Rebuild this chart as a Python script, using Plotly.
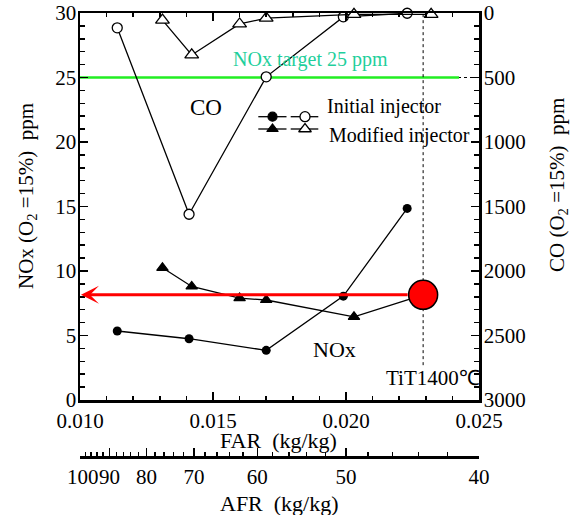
import plotly.graph_objects as go

# ---------------- data ----------------
FAR_INIT = [0.0114, 0.0141, 0.0170, 0.0199, 0.0223]
NOX_INIT = [5.35, 4.75, 3.85, 8.05, 14.85]
CO_INIT = [115, 1560, 495, 30, 2]

FAR_MOD = [0.0131, 0.0142, 0.0160, 0.0170, 0.0203]
NOX_MOD = [10.25, 8.8, 7.9, 7.75, 6.45]
FAR_MOD_CO = [0.0131, 0.0142, 0.0160, 0.0170, 0.0203, 0.0232]
CO_MOD = [55, 325, 85, 40, 10, 10]

TIT_FAR = 0.0229          # TiT 1400 C operating point
TIT_NOX = 8.15
TIT_LINE_BOTTOM = 2.7
NOX_TARGET = 25
TARGET_END_FAR = 0.02425

FAR_TICKS = [0.010, 0.015, 0.020, 0.025]
FAR_TICKTEXT = ["0.010", "0.015", "0.020", "0.025"]
AFR_MAJOR = [100, 90, 80, 70, 60, 50, 40]
AFR_TICKTEXT = ["\u00a0100", "90", "80", "70", "60", "50", "40"]
AFR_MINOR = list(range(98, 40, -2))
NOX_RANGE = [0, 30]
CO_RANGE = [3000, 0]

# ---------------- layout geometry (window pixels) ----------------
W, H = 571, 515
X0, X1 = 80, 479
Y_TOP, Y_BOT = 13, 400
Y_AFR = 457
FONT = "Liberation Serif, Times New Roman, serif"


def px(x):
    return x / W


def py(y):
    return (H - y) / H


BLACK = "black"
fig = go.Figure()

fig.add_trace(go.Scatter(x=FAR_INIT, y=NOX_INIT, mode="lines+markers",
                         line=dict(color=BLACK, width=1.3),
                         marker=dict(symbol="circle", size=9, color=BLACK, opacity=1),
                         xaxis="x", yaxis="y", hoverinfo="skip"))
fig.add_trace(go.Scatter(x=FAR_MOD + [TIT_FAR], y=NOX_MOD + [TIT_NOX], mode="lines+markers",
                         line=dict(color=BLACK, width=1.3),
                         marker=dict(symbol="triangle-up", size=[10] * len(FAR_MOD) + [0], color=BLACK,
                                     opacity=1, line=dict(width=1.2, color=BLACK)),
                         xaxis="x", yaxis="y", hoverinfo="skip"))
fig.add_trace(go.Scatter(x=FAR_INIT, y=CO_INIT, mode="lines+markers",
                         line=dict(color=BLACK, width=1.3),
                         marker=dict(symbol="circle", size=10, color="white", opacity=1,
                                     line=dict(color=BLACK, width=1.3)),
                         xaxis="x", yaxis="y2", hoverinfo="skip", cliponaxis=False))
fig.add_trace(go.Scatter(x=FAR_MOD_CO, y=CO_MOD, mode="lines+markers",
                         line=dict(color=BLACK, width=1.3),
                         marker=dict(symbol="triangle-up", size=12, color="white", opacity=1,
                                     line=dict(color=BLACK, width=1.3)),
                         xaxis="x", yaxis="y2", hoverinfo="skip", cliponaxis=False))

# dummy trace so the AFR axis is drawn
fig.add_trace(go.Scatter(x=[TIT_FAR], y=[TIT_NOX], mode="markers", opacity=0,
                         xaxis="x2", yaxis="y", hoverinfo="skip"))

fig.add_trace(go.Scatter(x=[TIT_FAR], y=[TIT_NOX], mode="markers",
                         marker=dict(size=29, color="#ff0000", opacity=1, line=dict(color=BLACK, width=1.5)),
                         xaxis="x", yaxis="y", hoverinfo="skip", cliponaxis=False))

# ---------------- legend glyphs (window-pixel axis) ----------------
LEG_ROWS = [(116.7, "circle", 9, 10), (129.0, "triangle-up", 10, 11)]
for yy, sym, sf, so in LEG_ROWS:
    fig.add_trace(go.Scatter(x=[258.3, 272.5, 286.5], y=[yy] * 3, mode="lines+markers",
                             line=dict(color=BLACK, width=1.3),
                             marker=dict(symbol=sym, size=[0, sf, 0], color=BLACK, opacity=1,
                                         line=dict(color=BLACK, width=1.2)),
                             xaxis="x3", yaxis="y3", hoverinfo="skip"))
    fig.add_trace(go.Scatter(x=[290.7, 305, 318.3], y=[yy] * 3, mode="lines+markers",
                             line=dict(color=BLACK, width=1.3),
                             marker=dict(symbol=sym, size=[0, so, 0], color="white", opacity=1,
                                         line=dict(color=BLACK, width=1.3)),
                             xaxis="x3", yaxis="y3", hoverinfo="skip"))

shapes = [
    dict(type="line", xref="x", yref="y", x0=FAR_TICKS[0], x1=FAR_TICKS[-1], y0=NOX_TARGET, y1=NOX_TARGET,
         line=dict(color=BLACK, width=1, dash="dot"), layer="below"),
    dict(type="line", xref="x", yref="y", x0=FAR_TICKS[0], x1=TARGET_END_FAR, y0=NOX_TARGET, y1=NOX_TARGET,
         line=dict(color="#22ee22", width=2.5), layer="below"),
    dict(type="line", xref="x", yref="y", x0=TIT_FAR, x1=TIT_FAR, y0=TIT_LINE_BOTTOM, y1=NOX_RANGE[1],
         line=dict(color=BLACK, width=1, dash="dot"), layer="below"),
]

tick_font = dict(family=FONT, size=21, color=BLACK)
ann = []


def text(x, y, t, size=21, color=BLACK, xanchor="center", textangle=0):
    ann.append(dict(x=px(x), y=py(y), xref="paper", yref="paper", text=t, showarrow=False,
                    font=dict(family=FONT, size=size, color=color), xanchor=xanchor, yanchor="middle",
                    textangle=textangle))


text(278, 440, "FAR  (kg/kg)", 22)
text(279, 503, "AFR  (kg/kg)", 22)
text(27, 196, "NOx (O<sub>2</sub> =15%)  ppm", 21, textangle=-90)
text(558, 185, "CO (O<sub>2</sub> =15%)  ppm", 21, textangle=-90)
text(310, 60, "NOx target 25 ppm", 20, color="#1fcf9c")
text(206, 108, "CO", 23)
text(334.5, 350, "NOx", 22)
text(433, 378, "TiT1400\u2103", 21)
text(325, 106, "Initial injector", 20, xanchor="left")
text(327, 136, "Modified injector", 20, xanchor="left")

ann.append(dict(x=FAR_TICKS[0], y=TIT_NOX, ax=TIT_FAR, ay=TIT_NOX, xref="x", yref="y",
                axref="x", ayref="y", showarrow=True, arrowhead=3, arrowsize=1.0,
                arrowwidth=3, arrowcolor="#ff0000", standoff=1, startstandoff=14, text=""))

axis_common = dict(showgrid=False, zeroline=False, showline=True, linecolor=BLACK, linewidth=2.5,
                   ticks="inside", tickcolor=BLACK, tickwidth=1.5, tickfont=tick_font, automargin=False,
                   ticklabeloverflow="allow")

fig.update_layout(
    width=W, height=H, margin=dict(l=0, r=0, t=0, b=0, pad=0),
    template="none", paper_bgcolor="white", plot_bgcolor="rgba(0,0,0,0)", showlegend=False,
    font=dict(family=FONT, color=BLACK),
    xaxis=dict(domain=[px(X0), px(X1)], range=[FAR_TICKS[0], FAR_TICKS[-1]], anchor="y",
               tickmode="array", tickvals=FAR_TICKS, ticktext=FAR_TICKTEXT, ticklen=8, mirror="ticks",
               minor=dict(dtick=0.001, tick0=FAR_TICKS[0], ticklen=4, ticks="inside",
                          tickcolor=BLACK, tickwidth=1.5),
               **axis_common),
    xaxis2=dict(overlaying="x", anchor="free", position=py(Y_AFR), side="bottom",
                range=[FAR_TICKS[0], FAR_TICKS[-1]], tickmode="array",
                tickvals=[1 / a for a in AFR_MAJOR], ticktext=AFR_TICKTEXT,
                ticklen=8, tickangle=0,
                minor=dict(tickmode="array", tickvals=[1 / a for a in AFR_MINOR], ticklen=4,
                           ticks="inside", tickcolor=BLACK, tickwidth=1.5),
                **axis_common),
    yaxis=dict(domain=[py(Y_BOT), py(Y_TOP)], range=NOX_RANGE, anchor="x", dtick=5, ticklen=8,
               ticklabelstandoff=-3,
               minor=dict(dtick=1, ticklen=5, ticks="inside", tickcolor=BLACK, tickwidth=1.5),
               **axis_common),
    yaxis2=dict(overlaying="y", side="right", anchor="x", range=CO_RANGE, dtick=500, ticklen=8,
                ticklabelstandoff=-2,
                minor=dict(dtick=100, ticklen=5, ticks="inside", tickcolor=BLACK, tickwidth=1.5),
                **axis_common),
    xaxis3=dict(domain=[0, 1], range=[0, W], anchor="y3", visible=False, fixedrange=True),
    yaxis3=dict(domain=[0, 1], range=[H, 0], anchor="x3", visible=False, fixedrange=True),
    shapes=shapes, annotations=ann,
)

# remove the default page margin so the 571x515 figure fills the window exactly
fig.write_html("out.html", config={"displayModeBar": False, "staticPlot": True},
               post_script="document.body.style.margin='0';document.body.style.overflow='hidden';")
